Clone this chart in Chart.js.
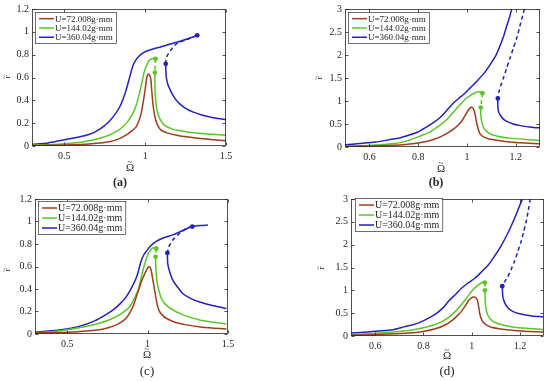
<!DOCTYPE html>
<html><head><meta charset="utf-8">
<script src="https://cdn.jsdelivr.net/npm/chart.js@4"></script>
<style>
html,body{margin:0;padding:0;background:#fff;}
#wrap{position:relative;width:550px;height:381px;overflow:hidden;}
canvas{position:absolute;}
</style></head><body>
<div id="wrap">
<canvas id="ca" width="275" height="190" style="left:0;top:0"></canvas>
<canvas id="cb" width="275" height="190" style="left:275px;top:0"></canvas>
<canvas id="cc" width="275" height="191" style="left:0;top:190px"></canvas>
<canvas id="cd" width="275" height="191" style="left:275px;top:190px"></canvas>
</div>
<script>
// ---------- labels & ticks ----------
const legendLabels = ['U=72.008g·mm', 'U=144.02g·mm', 'U=360.04g·mm'];
const panelLabels = ['(a)', '(b)', '(c)', '(d)'];
const xTitle = 'Ω';   // drawn with a tilde accent above
const yTitle = 'r';   // drawn with a tilde accent above
const xTicksAC = [0.5, 1, 1.5];
const xTickLabelsAC = ['0.5', '1', '1.5'];
const yTicksAC = [0, 0.2, 0.4, 0.6, 0.8, 1, 1.2];
const yTickLabelsAC = ['0', '0.2', '0.4', '0.6', '0.8', '1', '1.2'];
const xTicksBD = [0.6, 0.8, 1, 1.2];
const xTickLabelsBD = ['0.6', '0.8', '1', '1.2'];
const yTicksBD = [0, 0.5, 1, 1.5, 2, 2.5, 3];
const yTickLabelsBD = ['0', '0.5', '1', '1.5', '2', '2.5', '3'];

// ---------- panel (a) ----------
const aBrown = [[0.3,0.004],[0.4,0.006],[0.5,0.009],[0.6,0.013],[0.652,0.017],[0.72,0.026],[0.777,0.037],[0.83,0.058],[0.881,0.095],[0.92,0.135],[0.944,0.167],[0.962,0.225],[0.975,0.283],[0.986,0.37],[0.996,0.456],[1.004,0.54],[1.01,0.60],[1.016,0.625],[1.023,0.629],[1.029,0.615],[1.035,0.585],[1.041,0.48],[1.048,0.37],[1.057,0.28],[1.069,0.21],[1.083,0.165],[1.10,0.138],[1.14,0.113],[1.194,0.095],[1.27,0.078],[1.34,0.066],[1.42,0.055],[1.5,0.046]];
const aGreenUp = [[0.3,0.008],[0.4,0.012],[0.5,0.019],[0.6,0.032],[0.652,0.046],[0.72,0.068],[0.777,0.095],[0.82,0.125],[0.86,0.167],[0.895,0.22],[0.923,0.283],[0.945,0.36],[0.964,0.456],[0.98,0.56],[0.996,0.658],[1.01,0.71],[1.023,0.744],[1.036,0.76],[1.048,0.767],[1.064,0.764]];
const aGreenDash = [[1.064,0.764],[1.063,0.72],[1.061,0.68],[1.06,0.643]];
const aGreenLow = [[1.06,0.643],[1.06,0.55],[1.062,0.456],[1.068,0.36],[1.079,0.283],[1.096,0.225],[1.12,0.18],[1.17,0.148],[1.235,0.13],[1.32,0.113],[1.41,0.103],[1.5,0.095]];
const aBlueUp = [[0.3,0.013],[0.4,0.027],[0.485,0.05],[0.56,0.07],[0.652,0.1],[0.72,0.148],[0.777,0.215],[0.81,0.27],[0.84,0.335],[0.862,0.405],[0.881,0.485],[0.897,0.565],[0.912,0.645],[0.926,0.71],[0.944,0.757],[0.97,0.798],[1.006,0.83],[1.05,0.85],[1.09,0.865],[1.14,0.887],[1.194,0.908],[1.24,0.928],[1.277,0.946],[1.322,0.969]];
const aBlueDash = [[1.322,0.969],[1.29,0.952],[1.256,0.932],[1.204,0.903],[1.18,0.88],[1.162,0.845],[1.145,0.81],[1.135,0.787],[1.129,0.755],[1.127,0.72]];
const aBlueLow = [[1.127,0.72],[1.128,0.66],[1.131,0.60],[1.14,0.54],[1.162,0.47],[1.185,0.415],[1.214,0.369],[1.25,0.33],[1.298,0.297],[1.35,0.272],[1.40,0.254],[1.45,0.241],[1.5,0.231]];

// ---------- panel (b) ----------
const bBrown = [[0.5,0.01],[0.6,0.02],[0.7,0.038],[0.75,0.055],[0.8,0.085],[0.85,0.14],[0.891,0.22],[0.92,0.3],[0.945,0.39],[0.965,0.48],[0.98,0.57],[0.99,0.66],[1.0,0.75],[1.01,0.83],[1.018,0.865],[1.024,0.85],[1.03,0.786],[1.036,0.65],[1.041,0.50],[1.047,0.38],[1.054,0.286],[1.068,0.22],[1.088,0.18],[1.13,0.14],[1.177,0.107],[1.24,0.085],[1.3,0.07]];
const bGreenUp = [[0.5,0.02],[0.6,0.035],[0.7,0.075],[0.727,0.095],[0.77,0.16],[0.809,0.24],[0.85,0.33],[0.891,0.48],[0.92,0.61],[0.945,0.76],[0.965,0.88],[0.986,1.0],[1.0,1.07],[1.02,1.14],[1.035,1.18],[1.048,1.2],[1.058,1.195],[1.064,1.17]];
const bGreenDash = [[1.064,1.17],[1.061,1.06],[1.059,0.96],[1.057,0.857]];
const bGreenLow = [[1.057,0.857],[1.057,0.75],[1.058,0.643],[1.062,0.53],[1.068,0.43],[1.08,0.345],[1.095,0.286],[1.13,0.23],[1.177,0.193],[1.24,0.165],[1.3,0.143]];
const bBlueUp = [[0.5,0.05],[0.56,0.075],[0.625,0.107],[0.693,0.17],[0.727,0.2],[0.76,0.255],[0.796,0.32],[0.83,0.42],[0.864,0.536],[0.885,0.62],[0.904,0.714],[0.925,0.84],[0.945,0.955],[0.965,1.05],[0.986,1.14],[1.013,1.28],[1.041,1.43],[1.07,1.6],[1.095,1.786],[1.118,1.98],[1.136,2.2],[1.152,2.43],[1.164,2.64],[1.175,2.82],[1.184,3.0]];
const bBlueDash = [[1.236,3.0],[1.22,2.68],[1.204,2.36],[1.19,2.14],[1.177,1.93],[1.163,1.71],[1.15,1.5],[1.14,1.35],[1.132,1.21],[1.127,1.057]];
const bBlueLow = [[1.127,1.057],[1.127,0.92],[1.129,0.786],[1.137,0.69],[1.15,0.607],[1.168,0.545],[1.19,0.5],[1.215,0.47],[1.245,0.443],[1.275,0.425],[1.3,0.414]];

// ---------- panel (c) ----------
const cBrown = [[0.3,0.009],[0.4,0.012],[0.5,0.015],[0.6,0.025],[0.7,0.038],[0.76,0.058],[0.805,0.081],[0.84,0.11],[0.867,0.14],[0.89,0.19],[0.908,0.24],[0.93,0.33],[0.95,0.416],[0.965,0.48],[0.981,0.532],[0.995,0.575],[1.006,0.596],[1.015,0.595],[1.023,0.56],[1.033,0.48],[1.044,0.387],[1.056,0.29],[1.07,0.212],[1.09,0.17],[1.116,0.14],[1.17,0.105],[1.24,0.081],[1.33,0.062],[1.41,0.052],[1.49,0.044]];
const cGreenUp = [[0.3,0.009],[0.4,0.02],[0.497,0.038],[0.6,0.062],[0.7,0.096],[0.76,0.125],[0.805,0.154],[0.85,0.195],[0.888,0.24],[0.915,0.31],[0.94,0.387],[0.955,0.47],[0.97,0.56],[0.986,0.64],[1.002,0.706],[1.018,0.745],[1.033,0.765],[1.045,0.765],[1.054,0.76]];
const cGreenDash = [[1.054,0.76],[1.052,0.72],[1.05,0.686]];
const cGreenLow = [[1.05,0.686],[1.051,0.6],[1.054,0.532],[1.06,0.45],[1.07,0.387],[1.085,0.32],[1.106,0.27],[1.15,0.22],[1.2,0.183],[1.26,0.15],[1.324,0.125],[1.41,0.105],[1.49,0.09]];
const cBlueUp = [[0.3,0.015],[0.4,0.028],[0.497,0.044],[0.58,0.07],[0.66,0.11],[0.72,0.155],[0.784,0.212],[0.83,0.27],[0.867,0.33],[0.9,0.41],[0.93,0.50],[0.945,0.57],[0.96,0.648],[0.975,0.7],[0.992,0.735],[1.02,0.785],[1.054,0.823],[1.1,0.855],[1.158,0.881],[1.22,0.92],[1.278,0.955],[1.33,0.965],[1.375,0.968]];
const cBlueDash = [[1.278,0.955],[1.241,0.939],[1.2,0.895],[1.158,0.837],[1.133,0.779],[1.123,0.721]];
const cBlueLow = [[1.123,0.721],[1.124,0.66],[1.126,0.619],[1.14,0.54],[1.158,0.474],[1.19,0.41],[1.22,0.358],[1.27,0.315],[1.324,0.285],[1.41,0.252],[1.49,0.227]];

// ---------- panel (d) ----------
const dBrown = [[0.5,0.014],[0.6,0.03],[0.741,0.064],[0.8,0.1],[0.85,0.157],[0.89,0.24],[0.918,0.336],[0.94,0.44],[0.959,0.55],[0.975,0.67],[0.986,0.766],[0.998,0.83],[1.011,0.852],[1.02,0.82],[1.025,0.766],[1.03,0.62],[1.034,0.48],[1.04,0.38],[1.048,0.30],[1.062,0.24],[1.082,0.193],[1.12,0.155],[1.177,0.122],[1.24,0.1],[1.297,0.086]];
const dGreenUp = [[0.5,0.029],[0.6,0.06],[0.741,0.122],[0.79,0.17],[0.836,0.229],[0.875,0.31],[0.905,0.408],[0.935,0.55],[0.959,0.695],[0.98,0.84],[1.0,0.98],[1.017,1.07],[1.034,1.14],[1.046,1.175],[1.055,1.17]];
const dGreenDash = [[1.055,1.17],[1.055,1.09],[1.055,1.0]];
const dGreenLow = [[1.055,1.0],[1.056,0.85],[1.057,0.695],[1.061,0.56],[1.068,0.444],[1.08,0.36],[1.095,0.30],[1.13,0.24],[1.177,0.193],[1.24,0.165],[1.297,0.143]];
const dBlueUp = [[0.5,0.064],[0.58,0.095],[0.673,0.136],[0.72,0.2],[0.768,0.265],[0.81,0.36],[0.85,0.48],[0.88,0.61],[0.905,0.766],[0.935,0.92],[0.959,1.05],[0.985,1.16],[1.014,1.27],[1.04,1.4],[1.068,1.55],[1.095,1.75],[1.123,1.98],[1.145,2.2],[1.164,2.41],[1.18,2.6],[1.195,2.8],[1.211,3.0]];
const dBlueDash = [[1.243,3.0],[1.235,2.75],[1.225,2.48],[1.215,2.27],[1.204,2.05],[1.19,1.83],[1.177,1.625],[1.163,1.45],[1.15,1.30],[1.137,1.19],[1.127,1.09]];
const dBlueLow = [[1.127,1.09],[1.128,0.96],[1.13,0.84],[1.138,0.72],[1.15,0.62],[1.17,0.54],[1.204,0.48],[1.25,0.44],[1.297,0.42]];

// ---------- styling ----------
const COL = ['#9e3d1f', '#5cc42a', '#2222b5'];
const FONT = '"Liberation Serif", "Times New Roman", serif';
const INK = '#262626';

function ds(data, color, dashed, markers) {
  return {
    data: data.map(p => ({x: p[0], y: p[1]})),
    borderColor: color, backgroundColor: color,
    borderWidth: 1.5, borderDash: dashed ? [4, 3] : [],
    showLine: true, tension: 0.25, fill: false,
    pointBorderWidth: 0,
    pointRadius: ctx => (markers && (ctx.dataIndex === 0 || ctx.dataIndex === data.length - 1) && data[ctx.dataIndex][1] < 2.99) ? 2.4 : 0,
    pointHoverRadius: 0
  };
}

function tilded(ctx, base, x, y, size, lift) {
  ctx.font = size + 'px ' + FONT;
  ctx.fillText(base, x, y);
  ctx.font = Math.round(size * 0.8) + 'px ' + FONT;
  ctx.fillText('~', x, y - size * lift);
}

const decor = {
  id: 'decor',
  afterDatasetsDraw(chart, args, o) {
    const {ctx, chartArea: a, scales: {x, y}} = chart;
    ctx.save();
    ctx.setLineDash([]);
    ctx.strokeStyle = INK; ctx.lineWidth = 0.8;
    const L = Math.round(a.left) + 0.5, R = Math.round(a.right) - 0.5, T = Math.round(a.top) + 0.5, B = Math.round(a.bottom) - 0.5;
    ctx.strokeRect(L, T, R - L, B - T);
    ctx.beginPath();
    x.ticks.forEach(t => { const px = Math.round(x.getPixelForValue(t.value)) + 0.5; ctx.moveTo(px, B); ctx.lineTo(px, B - 3); ctx.moveTo(px, T); ctx.lineTo(px, T + 3); });
    y.ticks.forEach(t => { const py = Math.round(y.getPixelForValue(t.value)) + 0.5; ctx.moveTo(L, py); ctx.lineTo(L + 3, py); ctx.moveTo(R, py); ctx.lineTo(R - 3, py); });
    ctx.stroke();
    // legend
    const lg = o.legend;
    ctx.font = lg.size + 'px ' + FONT;
    const tw = Math.max(...legendLabels.map(s => ctx.measureText(s).width));
    const w = 4 + 15 + 1 + tw + 3, h = lg.pitch * 3 + 3;
    ctx.fillStyle = '#fff';
    ctx.fillRect(lg.x, lg.y, w, h);
    ctx.lineWidth = 0.7; ctx.strokeStyle = '#333';
    ctx.strokeRect(lg.x + 0.5, lg.y + 0.5, w, h);
    legendLabels.forEach((s, i) => {
      const cy = lg.y + h / 2 + (i - 1) * lg.pitch + 0.5;
      ctx.strokeStyle = COL[i]; ctx.lineWidth = 1.5;
      ctx.beginPath(); ctx.moveTo(lg.x + 4, cy); ctx.lineTo(lg.x + 19, cy); ctx.stroke();
      ctx.fillStyle = INK; ctx.textBaseline = 'middle'; ctx.textAlign = 'left';
      ctx.fillText(s, lg.x + 20, cy + 0.5);
    });
    // titles
    ctx.fillStyle = INK; ctx.textAlign = 'center'; ctx.textBaseline = 'middle';
    tilded(ctx, xTitle, o.xt[0], o.xt[1], 11, 0.45);
    ctx.font = (o.pl[3] ? 'bold ' : '') + o.pl[2] + 'px ' + FONT;
    ctx.fillText(o.pl[4], o.pl[0], o.pl[1]);
    ctx.save();
    ctx.translate(o.yt[0], o.yt[1]); ctx.rotate(-Math.PI / 2);
    tilded(ctx, yTitle, 0, 1, 9, 0.38);
    ctx.restore();
    ctx.restore();
  }
};

function makeChart(id, cfg) {
  const sets = [
    ds(cfg.brown, COL[0], false, false),
    ds(cfg.greenUp, COL[1], false, false),
    ds(cfg.greenDash, COL[1], true, true),
    ds(cfg.greenLow, COL[1], false, false),
    ds(cfg.blueUp, COL[2], false, false),
    ds(cfg.blueDash, COL[2], true, true),
    ds(cfg.blueLow, COL[2], false, false)
  ];
  const H = document.getElementById(id).height;
  new Chart(document.getElementById(id), {
    type: 'scatter',
    data: {datasets: sets},
    options: {
      responsive: false, maintainAspectRatio: false, animation: false, devicePixelRatio: 1,
      layout: {padding: {left: 0, top: cfg.area[1], right: 275 - cfg.area[2], bottom: 0}},
      plugins: {legend: {display: false}, tooltip: {enabled: false}, title: {display: false},
        decor: {legend: cfg.legend, xt: cfg.xt, yt: cfg.yt, pl: cfg.pl}},
      scales: {
        x: {type: 'linear', min: cfg.xr[0], max: cfg.xr[1],
          afterBuildTicks: s => { s.ticks = cfg.xTicks.map(v => ({value: v})); },
          afterFit: s => { s.height = H - cfg.area[3]; },
          grid: {display: false, drawTicks: false}, border: {display: false},
          ticks: {color: INK, font: {family: FONT, size: 10}, padding: 4, maxRotation: 0, autoSkip: false,
            callback: v => cfg.xLabels[cfg.xTicks.indexOf(v)]}},
        y: {type: 'linear', min: cfg.yr[0], max: cfg.yr[1],
          afterBuildTicks: s => { s.ticks = cfg.yTicks.map(v => ({value: v})); },
          afterFit: s => { s.width = cfg.area[0]; },
          grid: {display: false, drawTicks: false}, border: {display: false},
          ticks: {color: INK, font: {family: FONT, size: 10}, padding: 3, autoSkip: false,
            callback: v => cfg.yLabels[cfg.yTicks.indexOf(v)]}}
      }
    },
    plugins: [decor]
  });
}

makeChart('ca', {brown: aBrown, greenUp: aGreenUp, greenDash: aGreenDash, greenLow: aGreenLow, blueUp: aBlueUp, blueDash: aBlueDash, blueLow: aBlueLow,
  area: [32, 7, 226, 146], xr: [0.3, 1.5], yr: [0, 1.2], xTicks: xTicksAC, xLabels: xTickLabelsAC, yTicks: yTicksAC, yLabels: yTickLabelsAC,
  legend: {x: 35, y: 12, size: 9, pitch: 9.3}, xt: [130, 168], yt: [7, 77], pl: [120, 183, 12, true, panelLabels[0]]});
makeChart('cb', {brown: bBrown, greenUp: bGreenUp, greenDash: bGreenDash, greenLow: bGreenLow, blueUp: bBlueUp, blueDash: bBlueDash, blueLow: bBlueLow,
  area: [70, 7, 265, 147], xr: [0.5, 1.3], yr: [0, 3], xTicks: xTicksBD, xLabels: xTickLabelsBD, yTicks: yTicksBD, yLabels: yTickLabelsBD,
  legend: {x: 73, y: 12, size: 9, pitch: 9.3}, xt: [166, 169], yt: [44, 78], pl: [161, 183, 12, true, panelLabels[1]]});
makeChart('cc', {brown: cBrown, greenUp: cGreenUp, greenDash: cGreenDash, greenLow: cGreenLow, blueUp: cBlueUp, blueDash: cBlueDash, blueLow: cBlueLow,
  area: [35, 7, 228, 144], xr: [0.3, 1.5], yr: [0, 1.2], xTicks: xTicksAC, xLabels: xTickLabelsAC, yTicks: yTicksAC, yLabels: yTickLabelsAC,
  legend: {x: 38, y: 11, size: 10, pitch: 10}, xt: [147, 165], yt: [7, 80], pl: [147, 182, 13, false, panelLabels[2]]});
makeChart('cd', {brown: dBrown, greenUp: dGreenUp, greenDash: dGreenDash, greenLow: dGreenLow, blueUp: dBlueUp, blueDash: dBlueDash, blueLow: dBlueLow,
  area: [76, 6, 269, 146], xr: [0.5, 1.3], yr: [0, 3], xTicks: xTicksBD, xLabels: xTickLabelsBD, yTicks: yTicksBD, yLabels: yTickLabelsBD,
  legend: {x: 80, y: 8, size: 10, pitch: 10}, xt: [172, 166], yt: [46, 78], pl: [172, 182, 13, false, panelLabels[3]]});
</script>
</body></html>
